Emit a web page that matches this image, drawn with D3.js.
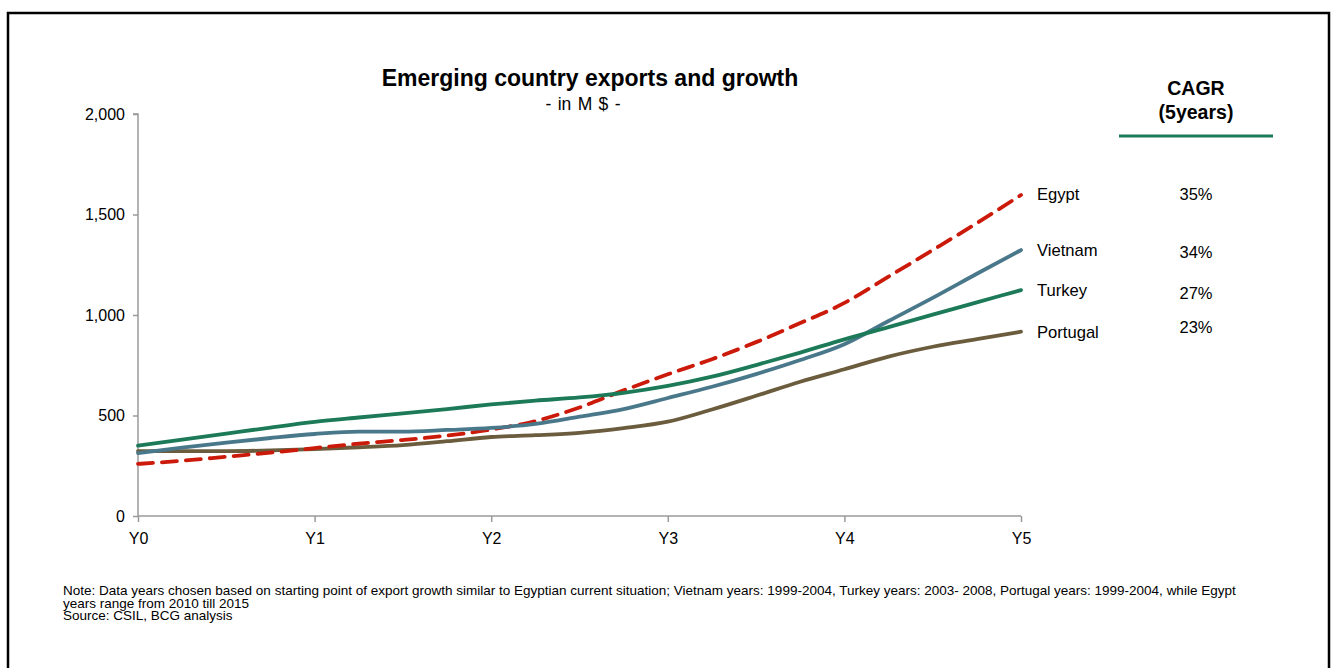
<!DOCTYPE html>
<html>
<head>
<meta charset="utf-8">
<script src="https://cdn.jsdelivr.net/npm/d3@7"></script>
<style>
  body { margin: 0; background: #fff; }
  text { font-family: "Liberation Sans", Arial, sans-serif; fill: #000; }
</style>
</head>
<body>
<svg width="1332" height="668"></svg>
<script>
// Year ticks and the quarter steps the lines are sampled at
const yearLabels = ["Y0", "Y1", "Y2", "Y3", "Y4", "Y5"];
const steps = [0, 0.25, 0.5, 0.75, 1, 1.25, 1.5, 1.75, 2, 2.25, 2.5, 2.75, 3, 3.25, 3.5, 3.75, 4, 4.25, 4.5, 4.75, 5];

// Exports in M $
const egypt    = [259, 275, 295, 315, 338, 360, 378, 400, 430, 472, 540, 625, 705, 780, 865, 960, 1060, 1191, 1323, 1457, 1597];
const vietnam  = [313, 340, 365, 388, 408, 420, 420, 428, 438, 458, 494, 532, 587, 643, 706, 776, 855, 970, 1085, 1205, 1323];
const turkey   = [350, 380, 410, 440, 468, 490, 511, 532, 555, 574, 590, 613, 647, 693, 751, 813, 879, 940, 1002, 1063, 1124];
const portugal = [323, 323, 323, 326, 333, 342, 353, 372, 393, 402, 414, 437, 469, 530, 598, 668, 730, 793, 842, 880, 917];

const countries = ["Egypt", "Vietnam", "Turkey", "Portugal"];
const cagr = ["35%", "34%", "27%", "23%"];
const yTicks = [0, 500, 1000, 1500, 2000];

const series = [
  { name: "Egypt", values: egypt, color: "#cc1a0a", dash: "15,9", labelY: 194, cagrY: 194 },
  { name: "Vietnam", values: vietnam, color: "#4a788b", dash: null, labelY: 250, cagrY: 252 },
  { name: "Turkey", values: turkey, color: "#1c7a59", dash: null, labelY: 290, cagrY: 293 },
  { name: "Portugal", values: portugal, color: "#6b5c3d", dash: null, labelY: 332, cagrY: 327 }
];

const svg = d3.select("svg");

// outer frame
svg.append("rect")
  .attr("x", 8).attr("y", 13)
  .attr("width", 1321).attr("height", 700)
  .attr("fill", "none")
  .attr("stroke", "#000")
  .attr("stroke-width", 2.5);

const x = d3.scaleLinear().domain([0, 5]).range([138, 1021]);
const y = d3.scaleLinear().domain([0, 2000]).range([516, 114]);

// Y axis
const yAxis = svg.append("g")
  .attr("transform", "translate(138,0)")
  .call(d3.axisLeft(y).tickValues(yTicks).tickFormat(d3.format(",")).tickSize(5).tickPadding(8));
yAxis.selectAll("path, line").attr("stroke", "#9a9a9a").attr("stroke-width", 1.5);
yAxis.selectAll("text").style("font-size", "16px").attr("fill", "#000");
yAxis.select(".domain").attr("d", "M-5,114H0V516");

// X axis
const xAxis = svg.append("g")
  .attr("transform", "translate(0,516)")
  .call(d3.axisBottom(x).tickValues(d3.range(yearLabels.length)).tickFormat(i => yearLabels[i]).tickSize(6).tickPadding(11));
xAxis.selectAll("path, line").attr("stroke", "#9a9a9a").attr("stroke-width", 1.5);
xAxis.selectAll("text").style("font-size", "16px").attr("fill", "#000");
xAxis.select(".domain").attr("d", "M138,0H1021");

// lines
const line = d3.line()
  .x((d, i) => x(steps[i]))
  .y(d => y(d))
  .curve(d3.curveMonotoneX);

// draw order: Portugal, Egypt, Vietnam, Turkey
[series[3], series[0], series[1], series[2]].forEach(s => {
  svg.append("path")
    .datum(s.values)
    .attr("d", line)
    .attr("fill", "none")
    .attr("stroke", s.color)
    .attr("stroke-width", 3.8)
    .attr("stroke-linecap", "round")
    .attr("stroke-dasharray", s.dash);
});

// series labels and CAGR column
series.forEach((s, i) => {
  svg.append("text")
    .attr("x", 1037).attr("y", s.labelY + 6)
    .style("font-size", "16.6px")
    .text(countries[i]);
  svg.append("text")
    .attr("x", 1196).attr("y", s.cagrY + 6)
    .attr("text-anchor", "middle")
    .style("font-size", "16.5px")
    .text(cagr[i]);
});

svg.append("text")
  .attr("x", 1196).attr("y", 95)
  .attr("text-anchor", "middle")
  .style("font-size", "19.5px").style("font-weight", "bold")
  .text("CAGR");
svg.append("text")
  .attr("x", 1196).attr("y", 119)
  .attr("text-anchor", "middle")
  .style("font-size", "19.5px").style("font-weight", "bold")
  .text("(5years)");
svg.append("line")
  .attr("x1", 1119).attr("x2", 1273)
  .attr("y1", 136).attr("y2", 136)
  .attr("stroke", "#1c7a59")
  .attr("stroke-width", 3);

// titles
svg.append("text")
  .attr("x", 590).attr("y", 86)
  .attr("text-anchor", "middle")
  .style("font-size", "23px").style("font-weight", "bold")
  .text("Emerging country exports and growth");
svg.append("text")
  .attr("x", 583).attr("y", 110)
  .attr("text-anchor", "middle")
  .style("font-size", "17.5px")
  .style("word-spacing", "1.5px")
  .text("- in M $ -");

// notes
const notes = [
  "Note: Data years chosen based on starting point of export growth similar to Egyptian current situation; Vietnam years: 1999-2004, Turkey years: 2003- 2008, Portugal years: 1999-2004, while Egypt",
  "years range from 2010 till 2015",
  "Source: CSIL, BCG analysis"
];
svg.append("g").selectAll("text")
  .data(notes)
  .enter().append("text")
  .attr("x", 63)
  .attr("y", (d, i) => 595 + i * 12.5)
  .style("font-size", "13.5px")
  .text(d => d);
</script>
</body>
</html>
